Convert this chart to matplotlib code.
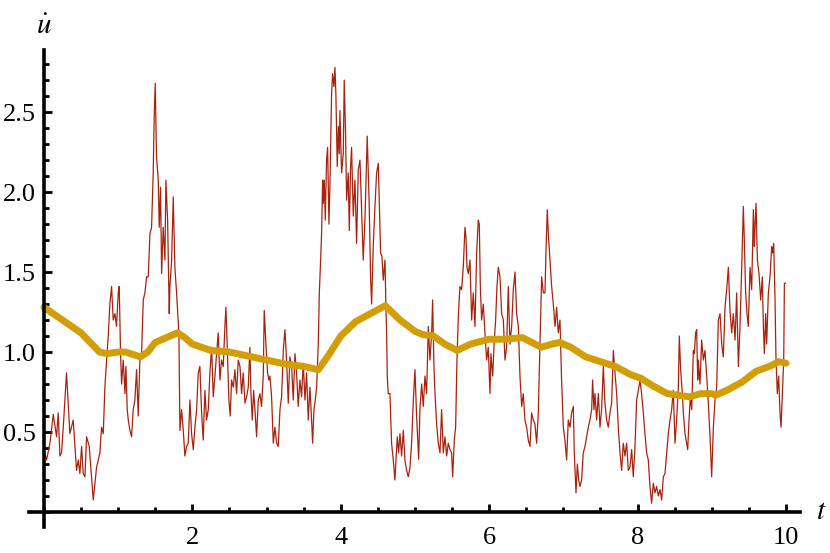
import matplotlib
matplotlib.use("Agg")
import matplotlib.pyplot as plt
from matplotlib.ticker import MultipleLocator, FixedLocator

# noisy trace (red)
noisy_t = [
    0.000, 0.036, 0.081, 0.126, 0.171, 0.193, 0.216, 0.238, 0.261, 0.305,
    0.350, 0.395, 0.418, 0.440, 0.463, 0.485, 0.508, 0.530, 0.553, 0.575,
    0.611, 0.642, 0.665, 0.710, 0.755, 0.777, 0.800, 0.822, 0.845, 0.867,
    0.889, 0.912, 0.934, 0.957, 0.979, 1.002, 1.015, 1.033, 1.047, 1.069,
    1.092, 1.105, 1.123, 1.137, 1.159, 1.181, 1.204, 1.226, 1.249, 1.271,
    1.294, 1.316, 1.339, 1.361, 1.384, 1.406, 1.429, 1.451, 1.473, 1.487,
    1.500, 1.518, 1.541, 1.554, 1.572, 1.586, 1.608, 1.631, 1.644, 1.667,
    1.689, 1.698, 1.721, 1.743, 1.765, 1.788, 1.810, 1.819, 1.833, 1.855,
    1.878, 1.900, 1.923, 1.945, 1.968, 1.990, 2.013, 2.035, 2.058, 2.080,
    2.102, 2.125, 2.147, 2.170, 2.192, 2.215, 2.237, 2.260, 2.282, 2.305,
    2.327, 2.349, 2.372, 2.394, 2.417, 2.439, 2.453, 2.475, 2.493, 2.511,
    2.529, 2.552, 2.574, 2.597, 2.619, 2.642, 2.664, 2.686, 2.709, 2.731,
    2.754, 2.776, 2.790, 2.808, 2.826, 2.844, 2.866, 2.889, 2.911, 2.933,
    2.956, 2.969, 2.992, 3.014, 3.032, 3.046, 3.068, 3.091, 3.113, 3.136,
    3.158, 3.181, 3.203, 3.226, 3.248, 3.270, 3.293, 3.315, 3.338, 3.360,
    3.383, 3.405, 3.427, 3.450, 3.472, 3.495, 3.518, 3.540, 3.562, 3.585,
    3.607, 3.621, 3.639, 3.657, 3.675, 3.697, 3.711, 3.720, 3.742, 3.756,
    3.765, 3.778, 3.792, 3.809, 3.823, 3.841, 3.854, 3.877, 3.890, 3.908,
    3.922, 3.935, 3.953, 3.967, 3.980, 3.989, 4.011, 4.034, 4.047, 4.065,
    4.079, 4.101, 4.115, 4.133, 4.146, 4.169, 4.191, 4.214, 4.236, 4.259,
    4.281, 4.303, 4.326, 4.357, 4.384, 4.402, 4.416, 4.438, 4.461, 4.483,
    4.506, 4.519, 4.537, 4.555, 4.573, 4.596, 4.609, 4.618, 4.627, 4.640,
    4.663, 4.685, 4.708, 4.730, 4.744, 4.762, 4.780, 4.798, 4.820, 4.843,
    4.865, 4.888, 4.910, 4.933, 4.955, 4.978, 5.000, 5.022, 5.050, 5.067,
    5.090, 5.112, 5.135, 5.157, 5.180, 5.202, 5.225, 5.238, 5.256, 5.270,
    5.292, 5.314, 5.337, 5.359, 5.382, 5.404, 5.427, 5.449, 5.472, 5.494,
    5.508, 5.530, 5.548, 5.566, 5.584, 5.606, 5.629, 5.651, 5.674, 5.687,
    5.701, 5.719, 5.741, 5.764, 5.786, 5.809, 5.831, 5.853, 5.867, 5.881,
    5.898, 5.921, 5.943, 5.966, 5.988, 6.011, 6.024, 6.047, 6.069, 6.087,
    6.105, 6.123, 6.146, 6.168, 6.191, 6.213, 6.235, 6.258, 6.280, 6.303,
    6.325, 6.348, 6.370, 6.393, 6.415, 6.438, 6.460, 6.482, 6.505, 6.527,
    6.550, 6.572, 6.595, 6.617, 6.640, 6.662, 6.685, 6.707, 6.730, 6.752,
    6.765, 6.783, 6.797, 6.819, 6.842, 6.864, 6.887, 6.909, 6.931, 6.954,
    6.976, 6.999, 7.021, 7.044, 7.066, 7.089, 7.111, 7.134, 7.147, 7.170,
    7.188, 7.206, 7.224, 7.246, 7.268, 7.291, 7.313, 7.336, 7.358, 7.381,
    7.394, 7.412, 7.426, 7.448, 7.471, 7.493, 7.515, 7.538, 7.560, 7.583,
    7.605, 7.628, 7.650, 7.673, 7.695, 7.718, 7.740, 7.763, 7.785, 7.807,
    7.830, 7.852, 7.875, 7.897, 7.920, 7.942, 7.965, 7.987, 8.010, 8.032,
    8.054, 8.077, 8.099, 8.122, 8.144, 8.167, 8.189, 8.212, 8.234, 8.257,
    8.279, 8.302, 8.324, 8.347, 8.369, 8.392, 8.414, 8.437, 8.459, 8.481,
    8.504, 8.526, 8.549, 8.562, 8.580, 8.603, 8.616, 8.639, 8.661, 8.675,
    8.693, 8.711, 8.729, 8.751, 8.765, 8.782, 8.796, 8.810, 8.818, 8.841,
    8.863, 8.886, 8.908, 8.931, 8.953, 8.976, 8.998, 9.021, 9.043, 9.066,
    9.088, 9.111, 9.133, 9.155, 9.178, 9.200, 9.223, 9.245, 9.268, 9.290,
    9.313, 9.335, 9.358, 9.380, 9.403, 9.425, 9.438, 9.456, 9.474, 9.492,
    9.515, 9.537, 9.560, 9.573, 9.582, 9.596, 9.614, 9.636, 9.659, 9.681,
    9.695, 9.708, 9.726, 9.739, 9.762, 9.784, 9.807, 9.820, 9.834, 9.852,
    9.865, 9.883, 9.901, 9.919, 9.933, 9.951, 9.969, 9.978, 9.990,
]
noisy_u = [
    0.39, 0.325, 0.43, 0.61, 0.47, 0.62, 0.35, 0.37, 0.53, 0.87,
    0.49, 0.575, 0.41, 0.26, 0.325, 0.24, 0.41, 0.24, 0.22, 0.47,
    0.41, 0.22, 0.075, 0.28, 0.37, 0.53, 0.49, 0.78, 0.95, 1.10,
    1.30, 1.41, 1.20, 1.24, 1.16, 1.37, 1.41, 0.99, 0.80, 0.95,
    0.74, 0.91, 0.64, 0.575, 0.51, 0.47, 0.64, 0.70, 0.89, 0.60,
    0.95, 0.99, 1.325, 1.37, 1.47, 1.47, 1.74, 1.78, 2.12, 2.49,
    2.68, 2.22, 2.075, 1.78, 2.03, 1.49, 1.78, 1.575, 2.075, 1.825,
    1.24, 1.41, 1.575, 1.97, 1.53, 1.37, 1.20, 1.12, 0.51, 0.64,
    0.51, 0.35, 0.41, 0.43, 0.70, 0.49, 0.39, 0.53, 0.64, 0.87,
    0.91, 0.62, 0.45, 0.76, 0.575, 0.64, 0.87, 1.03, 0.72, 0.85,
    0.99, 1.12, 0.825, 0.95, 0.91, 1.16, 1.28, 0.95, 0.70, 0.60,
    0.825, 0.78, 0.89, 0.74, 0.95, 0.91, 0.74, 0.87, 0.68, 0.72,
    0.78, 1.03, 0.74, 0.575, 0.76, 0.64, 0.47, 0.70, 0.74, 0.66,
    0.85, 1.26, 1.05, 0.87, 0.825, 0.85, 0.72, 0.43, 0.53, 0.43,
    0.41, 0.64, 0.72, 1.01, 1.14, 0.95, 0.68, 0.97, 0.91, 0.70,
    0.99, 0.87, 0.66, 0.825, 0.72, 0.93, 0.70, 0.87, 0.575, 0.78,
    0.575, 0.43, 0.64, 0.70, 0.78, 1.05, 1.37, 1.47, 1.74, 2.075,
    1.93, 2.075, 1.825, 2.20, 2.28, 1.80, 2.03, 2.62, 2.74, 2.66,
    2.78, 2.60, 2.16, 2.41, 2.24, 2.51, 2.12, 2.24, 2.70, 2.37,
    1.95, 2.12, 1.76, 2.16, 2.28, 1.85, 2.075, 1.68, 2.14, 2.20,
    1.89, 1.575, 1.825, 2.35, 1.91, 1.47, 1.30, 1.66, 1.91, 2.12,
    2.18, 1.95, 1.62, 1.60, 1.45, 1.575, 1.28, 1.12, 0.85, 0.74,
    0.74, 0.43, 0.325, 0.20, 0.325, 0.47, 0.37, 0.49, 0.35, 0.51,
    0.325, 0.26, 0.22, 0.28, 0.43, 0.70, 0.89, 0.60, 0.33, 0.64,
    0.80, 0.66, 0.85, 0.74, 1.16, 0.95, 1.12, 1.325, 0.91, 0.74,
    0.55, 0.43, 0.37, 0.64, 0.37, 0.47, 0.35, 0.43, 0.39, 0.37,
    0.22, 0.45, 0.53, 0.95, 1.22, 1.41, 1.39, 1.53, 1.78, 1.72,
    1.53, 1.49, 1.575, 1.20, 1.37, 1.16, 1.62, 1.825, 1.80, 1.41,
    1.20, 1.30, 1.12, 0.95, 1.03, 0.74, 0.99, 0.85, 1.075, 1.20,
    1.41, 1.53, 1.47, 1.24, 1.20, 0.95, 1.03, 1.41, 1.05, 1.16,
    1.39, 1.50, 1.24, 1.16, 0.85, 0.66, 0.74, 0.575, 0.53, 0.45,
    0.41, 0.62, 0.575, 0.55, 0.43, 0.62, 1.05, 1.47, 1.37, 1.37,
    1.62, 1.89, 1.74, 1.575, 1.41, 1.30, 1.16, 1.28, 1.12, 1.20,
    0.825, 0.53, 0.45, 0.325, 0.575, 0.53, 0.62, 0.66, 0.37, 0.12,
    0.30, 0.20, 0.16, 0.20, 0.37, 0.41, 0.47, 0.53, 0.575, 0.64,
    0.825, 0.64, 0.74, 0.575, 0.74, 0.53, 0.64, 0.91, 0.68, 0.575,
    0.53, 0.62, 0.68, 1.01, 0.87, 0.74, 0.53, 0.37, 0.26, 0.43,
    0.35, 0.43, 0.26, 0.28, 0.39, 0.22, 0.41, 0.70, 0.76, 0.825,
    0.74, 0.62, 0.49, 0.37, 0.325, 0.16, 0.055, 0.18, 0.12, 0.16,
    0.10, 0.14, 0.075, 0.22, 0.24, 0.37, 0.49, 0.575, 0.64, 0.76,
    0.43, 0.575, 0.78, 1.10, 0.89, 0.74, 0.62, 0.49, 0.43, 0.39,
    0.575, 0.72, 0.64, 1.01, 0.99, 1.12, 1.14, 0.825, 0.95, 0.80,
    1.075, 0.95, 1.01, 0.85, 0.68, 0.47, 0.22, 0.53, 0.70, 0.78,
    1.20, 1.24, 1.05, 0.97, 1.28, 1.39, 1.53, 1.26, 1.12, 1.24,
    1.075, 1.37, 0.91, 1.16, 1.53, 1.91, 1.70, 1.37, 1.24, 1.16,
    1.53, 1.39, 1.89, 1.66, 1.78, 1.93, 1.575, 1.49, 1.325, 1.47,
    1.16, 0.99, 1.24, 1.05, 1.37, 1.47, 1.66, 1.62, 1.68, 1.325,
    0.95, 0.74, 0.85, 0.62, 0.53, 0.74, 0.95, 1.43, 1.43,
]

# smooth trace (yellow)
smooth_t = [0, 0.25, 0.5, 0.75, 0.85, 1.0, 1.1, 1.2, 1.3, 1.4, 1.5, 1.6, 1.7,
            1.8, 1.9, 2.0, 2.25, 2.5, 2.75, 3.0, 3.25, 3.5, 3.7, 3.85, 4.0,
            4.2, 4.4, 4.6, 4.8, 5.0, 5.1, 5.25, 5.4, 5.57, 5.75, 6.0, 6.2,
            6.45, 6.7, 6.85, 6.95, 7.1, 7.3, 7.5, 7.7, 7.9, 8.05, 8.2, 8.4,
            8.55, 8.7, 8.85, 9.0, 9.05, 9.2, 9.4, 9.6, 9.8, 9.9, 10.0]
smooth_u = [1.28, 1.2, 1.12, 1.0, 0.99, 1.0, 1.0, 0.985, 0.97, 1.0, 1.06, 1.08,
            1.1, 1.12, 1.09, 1.05, 1.01, 1.0, 0.975, 0.95, 0.925, 0.91, 0.89,
            0.99, 1.1, 1.19, 1.24, 1.29, 1.2, 1.13, 1.11, 1.1, 1.05, 1.01,
            1.05, 1.08, 1.08, 1.09, 1.03, 1.05, 1.06, 1.03, 0.97, 0.94, 0.91,
            0.86, 0.835, 0.79, 0.74, 0.73, 0.72, 0.74, 0.74, 0.73, 0.76, 0.81,
            0.88, 0.915, 0.94, 0.93]

x_ticks = [2, 4, 6, 8, 10]
y_ticks = [0.5, 1.0, 1.5, 2.0, 2.5]

plt.rcParams['font.family'] = ['Liberation Serif', 'DejaVu Serif']
plt.rcParams['mathtext.fontset'] = 'stix'

fig = plt.figure(figsize=(8.3, 5.53), dpi=100)
ax = fig.add_axes([0.035, 0.047, 0.929, 0.863])

ax.plot(noisy_t, noisy_u, color='#A8230F', linewidth=0.9)
ax.plot(smooth_t, smooth_u, color='#D29E07', linewidth=5, solid_joinstyle='round',
        solid_capstyle='round')

ax.set_xlim(-0.2, 10.19)
ax.set_ylim(-0.094, 2.89)

# mathematica style axes through the origin
for side in ['top', 'right']:
    ax.spines[side].set_visible(False)
ax.spines['left'].set_position(('data', 0))
ax.spines['bottom'].set_position(('data', 0))
for side in ['left', 'bottom']:
    ax.spines[side].set_linewidth(2.6)

ax.xaxis.set_major_locator(FixedLocator(x_ticks))
ax.xaxis.set_minor_locator(MultipleLocator(0.5))
ax.yaxis.set_major_locator(FixedLocator(y_ticks))
ax.yaxis.set_minor_locator(MultipleLocator(0.1))
ax.set_xticklabels([str(v) for v in x_ticks])
ax.set_yticklabels([f'{v:.1f}' for v in y_ticks])

ax.tick_params(which='both', direction='in', width=2, labelsize=19)
ax.tick_params(axis='x', which='major', length=6, pad=11)
ax.tick_params(axis='x', which='minor', length=3.5)
ax.tick_params(axis='y', which='major', length=6, pad=6)
ax.tick_params(axis='y', which='minor', length=3.5)

ax.text(10.48, 0, r'$t$', fontsize=21, ha='center', va='center')
ax.text(0, 1.02, r'$\dot{u}$', fontsize=21, ha='center', va='bottom',
        transform=ax.get_xaxis_transform())

fig.savefig('out.png', dpi=100)
